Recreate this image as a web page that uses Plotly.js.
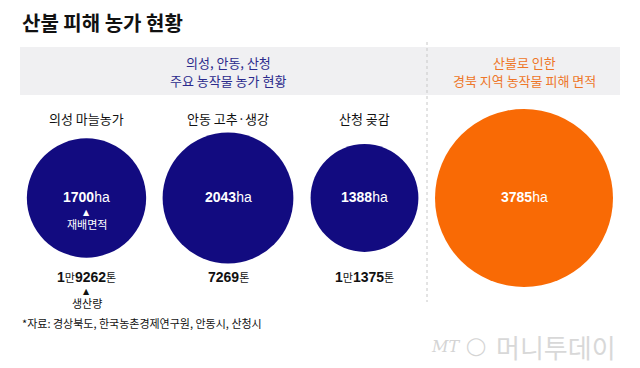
<!DOCTYPE html>
<html><head><meta charset="utf-8">
<script src="https://cdn.plot.ly/plotly-3.0.1.min.js"></script>
<style>html,body{margin:0;padding:0;background:#fff}#chart{width:640px;height:368px}</style>
</head><body><div id="chart"></div>
<script>
// ---- data ----
const chartTitle = '산불 피해 농가 현황';
const leftHeader = ['의성, 안동, 산청', '주요 농작물 농가 현황'];
const rightHeader = ['산불로 인한', '경북 지역 농작물 피해 면적'];
const categories = ['의성 마늘농가', '안동 고추·생강', '산청 곶감'];
const areaHa = [1700, 2043, 1388];
const productionTon = [19262, 7269, 11375];
const damageHa = [3785];
const areaNote = '재배면적';
const productionNote = '생산량';
const sourceText = '*자료: 경상북도, 한국농촌경제연구원, 안동시, 산청시';
const logoText = '머니투데이';

// ---- layout constants ----
const cx = [86.5, 228, 364.5];
const cxDamage = [524];
const cy = 198;
const maxDiameter = 178;
const NAVY = '#120b80', ORANGE = '#f96a05';
const KR = '"Noto Sans CJK KR", "Noto Sans", sans-serif';
const NUM = '"Liberation Sans", Arial, sans-serif';

const sizeref = 2 * Math.max(...areaHa, ...damageHa) / (maxDiameter * maxDiameter);

function fmtTon(v) {
  const man = Math.floor(v / 10000), rest = v % 10000;
  const sm = '<span style="font-family:Noto Sans CJK KR;font-size:11px;font-weight:normal">';
  return (man ? '<b>' + man + '</b>' + sm + '만</span>' : '') + '<b>' + rest + '</b>' + sm + '톤</span>';
}
function fmtHa(v) { return '<b>' + v + '</b><span style="font-weight:normal">ha</span>'; }

const traces = [
  {type: 'scatter', mode: 'markers', x: cx, y: cx.map(() => cy),
   marker: {size: areaHa, sizemode: 'area', sizeref: sizeref, color: NAVY, line: {width: 0}, opacity: 1},
   hoverinfo: 'skip', cliponaxis: false},
  {type: 'scatter', mode: 'markers', x: cxDamage, y: [cy],
   marker: {size: damageHa, sizemode: 'area', sizeref: sizeref, color: ORANGE, line: {width: 0}, opacity: 1},
   hoverinfo: 'skip', cliponaxis: false}
];

const ann = [];
ann.push({x: 20, y: 22, xanchor: 'left', yanchor: 'middle', text: '<b>' + chartTitle + '</b>', showarrow: false,
  font: {family: KR, size: 20, color: '#111'}});
[62, 80].forEach((yy, k) => {
  ann.push({x: 228, y: yy, xanchor: 'center', yanchor: 'middle', text: leftHeader[k], showarrow: false,
    font: {family: KR, size: 13, color: '#2b2a8c'}});
  ann.push({x: 524, y: yy, xanchor: 'center', yanchor: 'middle', text: rightHeader[k], showarrow: false,
    font: {family: KR, size: 13, color: '#ee7628'}});
});
categories.forEach((c, i) => {
  ann.push({x: cx[i], y: 118, text: c, showarrow: false, xanchor: 'center', yanchor: 'middle',
    font: {family: KR, size: 13, color: '#111'}});
  ann.push({x: cx[i], y: 197, text: fmtHa(areaHa[i]), showarrow: false, xanchor: 'center', yanchor: 'middle',
    font: {family: NUM, size: 14, color: '#fff'}});
  ann.push({x: cx[i], y: 277, text: fmtTon(productionTon[i]), showarrow: false, xanchor: 'center', yanchor: 'middle',
    font: {family: NUM, size: 14, color: '#111'}});
});
ann.push({x: cxDamage[0], y: 197, text: fmtHa(damageHa[0]), showarrow: false, xanchor: 'center', yanchor: 'middle',
  font: {family: NUM, size: 14, color: '#fff'}});
ann.push({x: cx[0], y: 212, text: '▲', showarrow: false, font: {family: 'DejaVu Sans', size: 8, color: '#fff'}});
ann.push({x: cx[0], y: 224, text: areaNote, showarrow: false, font: {family: KR, size: 11, color: '#fff'}});
ann.push({x: cx[0], y: 291, text: '▲', showarrow: false, font: {family: 'DejaVu Sans', size: 8, color: '#111'}});
ann.push({x: cx[0], y: 303, text: productionNote, showarrow: false, font: {family: KR, size: 11, color: '#111'}});
ann.push({x: 20, y: 323, xanchor: 'left', yanchor: 'middle', text: sourceText, showarrow: false,
  font: {family: KR, size: 11, color: '#111'}});
ann.push({x: 462, y: 346, xanchor: 'right', yanchor: 'middle', text: '<i>MT</i>', showarrow: false,
  font: {family: 'DejaVu Serif', size: 16, color: '#d4d4d4'}});
ann.push({x: 476, y: 346, xanchor: 'center', yanchor: 'middle', text: '◯', showarrow: false,
  font: {family: 'DejaVu Sans', size: 18, color: '#d4d4d4'}});
ann.push({x: 494, y: 346, xanchor: 'left', yanchor: 'middle', text: logoText, showarrow: false,
  font: {family: KR, size: 26, color: '#d8d8d8'}});

const layout = {
  width: 640, height: 368, margin: {l: 0, r: 0, t: 0, b: 0},
  paper_bgcolor: '#fff', plot_bgcolor: '#fff', showlegend: false,
  xaxis: {range: [0, 640], visible: false, fixedrange: true},
  yaxis: {range: [368, 0], visible: false, fixedrange: true},
  shapes: [
    {type: 'rect', xref: 'x', yref: 'y', x0: 20, x1: 620, y0: 47, y1: 95, fillcolor: '#f0f0f2', line: {width: 0}, layer: 'below'},
    {type: 'line', xref: 'x', yref: 'y', x0: 427, x1: 427, y0: 42, y1: 302, line: {color: '#c8c8c8', width: 1, dash: 'dot'}}
  ],
  annotations: ann
};
Plotly.newPlot('chart', traces, layout, {staticPlot: true, displayModeBar: false});
</script></body></html>
